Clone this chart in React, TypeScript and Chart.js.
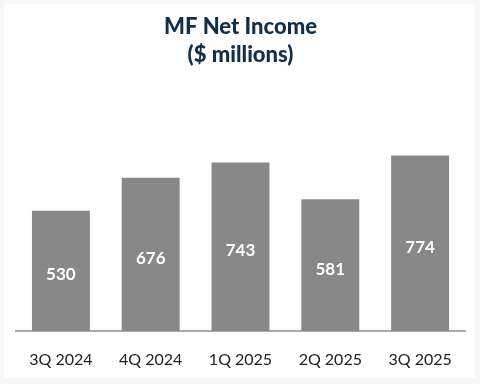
import React, { useEffect, useRef } from "react";
import { Chart, registerables } from "chart.js";

Chart.register(...registerables);

const categories = ["3Q 2024", "4Q 2024", "1Q 2025", "2Q 2025", "3Q 2025"];
const netIncome = [530, 676, 743, 581, 774];
const titleLines = ["MF Net Income", "($ millions)"];

const FONT = "Lato, 'Noto Sans', sans-serif";

const bgPlugin = {
  id: "bg",
  beforeDraw(chart: any) {
    const ctx = chart.ctx;
    ctx.save();
    ctx.fillStyle = "#f7f7f5";
    ctx.fillRect(0, 0, chart.width, chart.height);
    ctx.fillStyle = "#ffffff";
    ctx.fillRect(4, 4, chart.width - 9, chart.height - 10);
    ctx.restore();
  },
};

const valueLabels = {
  id: "valueLabels",
  afterDatasetsDraw(chart: any) {
    const ctx = chart.ctx;
    const meta = chart.getDatasetMeta(0);
    const data = chart.data.datasets[0].data;
    ctx.save();
    ctx.fillStyle = "#ffffff";
    ctx.font = `bold 17px ${FONT}`;
    ctx.textAlign = "center";
    ctx.textBaseline = "middle";
    meta.data.forEach((bar: any, i: number) => {
      const y = (bar.y + bar.base) / 2 + 4;
      ctx.fillText(String(data[i]), bar.x, y);
    });
    ctx.restore();
  },
};

export default function App() {
  const ref = useRef<HTMLCanvasElement>(null);
  useEffect(() => {
    const chart = new Chart(ref.current!, {
      type: "bar",
      data: {
        labels: categories,
        datasets: [
          {
            data: netIncome,
            backgroundColor: "#888888",
            borderWidth: 0,
            categoryPercentage: 1,
            barPercentage: 0.645,
          },
        ],
      },
      options: {
        responsive: false,
        animation: false,
        layout: { padding: { top: 13, left: 16, right: 15, bottom: 0 } },
        plugins: {
          legend: { display: false },
          tooltip: { enabled: false },
          title: {
            display: true,
            text: titleLines,
            color: "#0f2f4b",
            font: { family: FONT, size: 22, weight: 900, lineHeight: 1.27 },
            padding: { top: 0, bottom: 58 },
          },
        },
        scales: {
          x: {
            grid: { display: false },
            border: { display: true, color: "#aaaaaa", width: 2 },
            ticks: {
              color: "#222222",
              font: { family: FONT, size: 16 },
              padding: 11,
              maxRotation: 0,
            },
            afterFit(scale: any) {
              scale.height = 53;
            },
          },
          y: {
            display: false,
            min: 0,
            max: 900,
          },
        },
      },
      plugins: [bgPlugin, valueLabels],
    });
    return () => chart.destroy();
  }, []);
  return (
    <div style={{ position: "fixed", left: 0, top: 0, width: 480, height: 384 }}>
      <canvas ref={ref} width={480} height={384} style={{ display: "block" }} />
    </div>
  );
}
